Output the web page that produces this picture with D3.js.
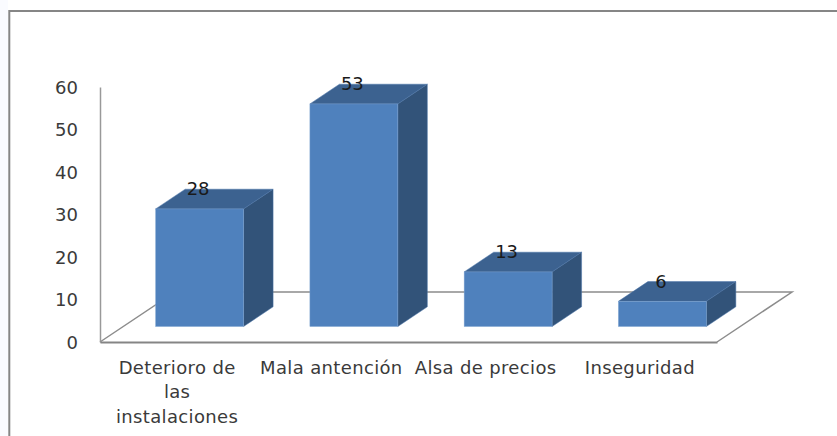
<!DOCTYPE html>
<html>
<head>
<style>
    body { margin: 0; background: #fff; }
    text { font-family: "DejaVu Sans", sans-serif; }
</style>
</head>
<body>
<svg id="chart" width="837" height="436" style="display:block"></svg>
<script src="https://d3js.org/d3.v7.min.js"></script>
<script>
    const categories = ["Deterioro de las instalaciones", "Mala antención", "Alsa de precios", "Inseguridad"];
    const values = [28, 53, 13, 6];
    const yTicks = [0, 10, 20, 30, 40, 50, 60];
    // wrapped the same way as the picture
    const categoryLines = [["Deterioro de", "las", "instalaciones"], ["Mala antención"], ["Alsa de precios"], ["Inseguridad"]];

    const svg = d3.select("#chart");

    // depth of the 3d floor and of the bars
    const floorDx = 75, floorDy = 50;
    const barDx = 29.5, barDy = 19.7;
    const barShiftX = 22.5;

    const x = d3.scaleBand().domain(categories).range([100, 717]).paddingInner(0.43).paddingOuter(0.215);
    const y = d3.scaleLinear().domain([0, 60]).range([342, 87]);
    const barY = d3.scaleLinear().domain([0, 60]).range([326.5, 74.5]);
    const labelX = d3.scaleBand().domain(categories).range([100, 717]);

    // faint strip left of the frame
    svg.append("rect").attr("width", 8).attr("height", 436).attr("fill", "#fafbff");

    // frame, only left and top show
    svg.append("path")
        .attr("d", "M9.3,436V11H837")
        .attr("fill", "none")
        .attr("stroke", "#868686")
        .attr("stroke-width", 2);

    // floor
    const floor = svg.append("g").attr("fill", "none").attr("stroke", "#8c8c8c").attr("stroke-width", 1.5);
    floor.append("path")
        .attr("d", d3.line()([[100, y(0)], [100 + floorDx, y(0) - floorDy], [717 + floorDx, y(0) - floorDy], [717, y(0)]]));

    // axes
    const yAxis = d3.axisLeft(y).tickValues(yTicks).tickSize(0).tickPadding(22);
    const yG = svg.append("g").attr("transform", "translate(100,0)").call(yAxis);
    yG.select(".domain").attr("stroke", "#999").attr("stroke-width", 1.5);
    yG.selectAll("text").attr("font-size", 18).attr("fill", "#3a3a3a").attr("dy", "0.34em");

    const xAxis = d3.axisBottom(x).tickSize(0).tickFormat("");
    const xG = svg.append("g").attr("transform", "translate(0," + y(0) + ")").call(xAxis);
    xG.select(".domain").attr("stroke", "#858585").attr("stroke-width", 2);

    // bars: front, top, side
    const bars = svg.selectAll(".bar").data(categories).enter().append("g").attr("class", "bar");
    const barLeft = (d) => x(d) + barShiftX;
    const barRight = (d) => barLeft(d) + x.bandwidth();
    const barTop = (d, i) => barY(values[i]);
    const base = barY(0);

    bars.append("path")
        .attr("fill", "#3c6290")
        .attr("stroke", "#4a74a8")
        .attr("stroke-width", 0.5)
        .attr("d", (d, i) => d3.line()([[barLeft(d), barTop(d, i)], [barLeft(d) + barDx, barTop(d, i) - barDy], [barRight(d) + barDx, barTop(d, i) - barDy], [barRight(d), barTop(d, i)]]) + "Z");
    bars.append("path")
        .attr("fill", "#325379")
        .attr("stroke", "#4a74a8")
        .attr("stroke-width", 0.5)
        .attr("d", (d, i) => d3.line()([[barRight(d), barTop(d, i)], [barRight(d) + barDx, barTop(d, i) - barDy], [barRight(d) + barDx, base - barDy], [barRight(d), base]]) + "Z");
    bars.append("rect")
        .attr("fill", "#4f81bd")
        .attr("stroke", "#7fa3d0")
        .attr("stroke-width", 0.5)
        .attr("x", barLeft)
        .attr("y", barTop)
        .attr("width", x.bandwidth())
        .attr("height", (d, i) => base - barTop(d, i));

    bars.append("text")
        .attr("x", (d) => barLeft(d) + x.bandwidth() / 2 - 1.5)
        .attr("y", (d, i) => barTop(d, i) - 13.5)
        .attr("text-anchor", "middle")
        .attr("font-size", 18)
        .attr("fill", "#1a1a1a")
        .text((d, i) => values[i]);

    // category labels
    const labels = svg.selectAll(".cat").data(categories).enter().append("text")
        .attr("class", "cat")
        .attr("text-anchor", "middle")
        .attr("font-size", 18)
        .attr("letter-spacing", 0.35)
        .attr("fill", "#3a3a3a");
    labels.selectAll("tspan").data((d, i) => categoryLines[i].map((line) => ({ line, d }))).enter().append("tspan")
        .attr("x", (t) => labelX(t.d) + labelX.bandwidth() / 2)
        .attr("y", (t, i) => 374 + i * 24.4)
        .text((t) => t.line);
</script>
</body>
</html>
